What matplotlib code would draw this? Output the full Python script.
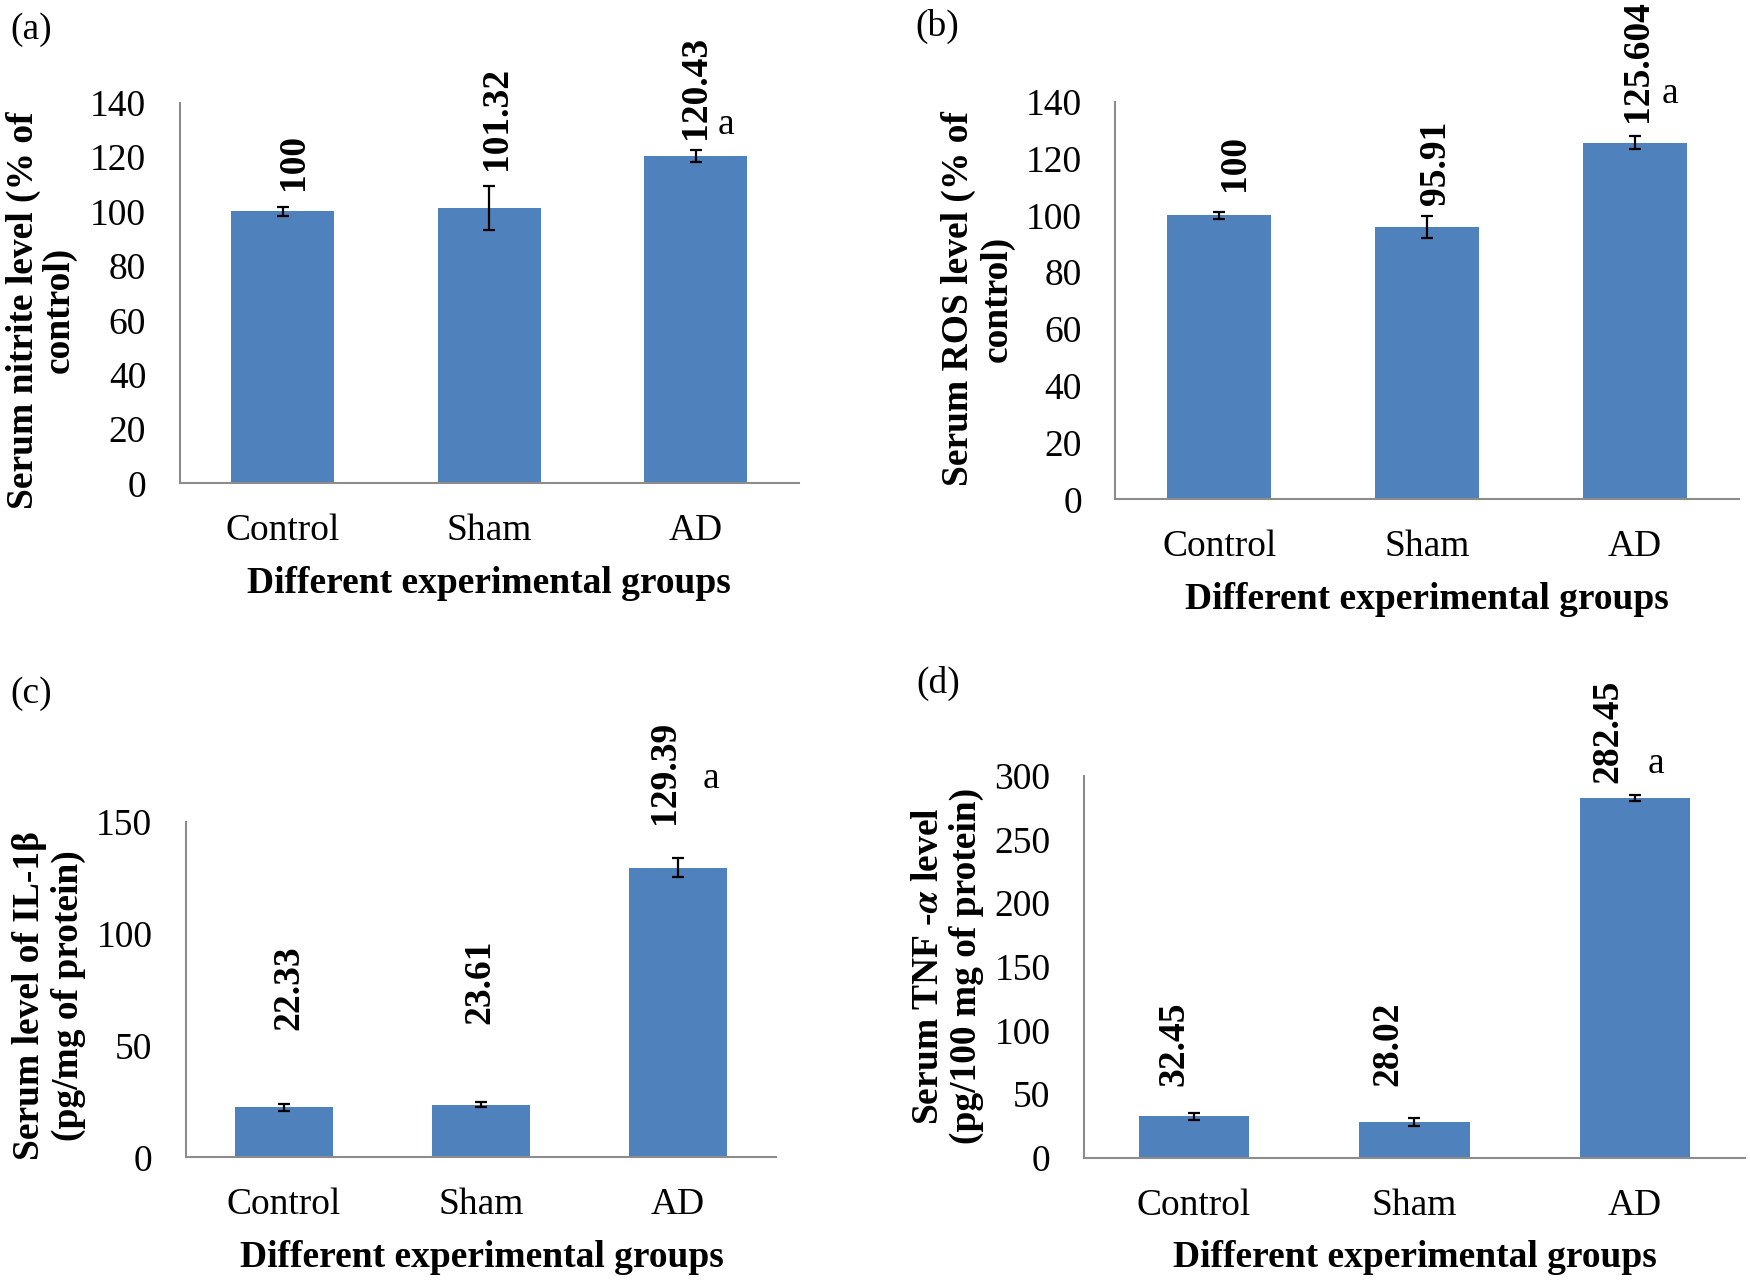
import numpy as np
import matplotlib
matplotlib.use("Agg")
from matplotlib import pyplot as plt

plt.rcParams['font.family'] = ['Liberation Serif', 'DejaVu Serif']
plt.rcParams['mathtext.fontset'] = 'stix'

# data
groups = ['Control', 'Sham', 'AD']

nitrite = [100, 101.32, 120.43]
nitrite_err = [1.6, 8.0, 2.1]

ros = [100, 95.91, 125.604]
ros_err = [1.3, 3.9, 2.3]

il1b = [22.33, 23.61, 129.39]
il1b_err = [1.7, 1.2, 4.2]

tnf = [32.45, 28.02, 282.45]
tnf_err = [2.6, 2.8, 2.5]

signif = ['', '', 'a']

bar_color = '#4F81BD'
spine_color = '#8C8C8C'
fs = 27

# one entry per panel: data + where things sit
panels = [
    dict(letter='(a)', letter_xy=(0.0177, 0.9768),
         rect=[0.1026, 0.6229, 0.3539, 0.2970],
         vals=nitrite, errs=nitrite_err, ymax=140, ystep=20,
         ylabel='Serum nitrite level (% of\ncontrol)', ylabel_xy=(-0.223, 0.456), ls=1.0,
         xlabel_xy=(0.499, -0.2635),
         dx=[0.052, 0.033, 0.0], dy=[6.4, 6.1, 4.0], sig_xy=(2.147, 131.8)),
    dict(letter='(b)', letter_xy=(0.5354, 0.9793),
         rect=[0.6373, 0.6105, 0.3564, 0.3100],
         vals=ros, errs=ros_err, ymax=140, ystep=20,
         ylabel='Serum ROS level (% of\ncontrol)', ylabel_xy=(-0.2205, 0.504), ls=1.14,
         xlabel_xy=(0.50, -0.2508),
         dx=[0.075, 0.04, 0.01], dy=[7.2, 4.0, 5.0], sig_xy=(2.168, 143)),
    dict(letter='(c)', letter_xy=(0.0181, 0.4590),
         rect=[0.1061, 0.0972, 0.3375, 0.2618],
         vals=il1b, errs=il1b_err, ymax=150, ystep=50,
         ylabel='Serum level of IL-1β\n(pg/mg of protein)', ylabel_xy=(-0.231, 0.481), ls=1.13,
         xlabel_xy=(0.501, -0.298),
         dx=[0.025, -0.005, -0.066], dy=[33, 34.8, 15.2], sig_xy=(2.17, 169.3)),
    dict(letter='(d)', letter_xy=(0.5363, 0.4667),
         rect=[0.6194, 0.0970, 0.3777, 0.2979],
         vals=tnf, errs=tnf_err, ymax=300, ystep=50,
         ylabel='Serum TNF -$\\mathbfit{\\alpha}$ level\n(pg/100 mg of protein)',
         ylabel_xy=(-0.206, 0.502), ls=1.11,
         xlabel_xy=(0.50, -0.261),
         dx=[-0.09, -0.12, -0.12], dy=[21.5, 25.8, 9.2], sig_xy=(2.095, 309.8)),
]

fig = plt.figure(figsize=(17.5, 12.82), dpi=100)

for p in panels:
    ax = fig.add_axes(p['rect'])
    x = np.arange(len(groups))
    ax.bar(x, p['vals'], width=0.5, color=bar_color, zorder=2)
    ax.errorbar(x, p['vals'], yerr=p['errs'], fmt='none', ecolor='black',
                elinewidth=1.6, capsize=4, capthick=1.6, zorder=3)

    ax.set_xlim(-0.5, 2.5)
    ax.set_ylim(0, p['ymax'])
    ax.set_yticks(np.arange(0, p['ymax'] + 1, p['ystep']))
    ax.set_xticks(x)
    ax.set_xticklabels(groups)
    ax.tick_params(axis='both', length=0, labelsize=fs)
    ax.tick_params(axis='y', pad=24)
    ax.tick_params(axis='x', pad=22)

    for s in ['top', 'right']:
        ax.spines[s].set_visible(False)
    for s in ['left', 'bottom']:
        ax.spines[s].set_color(spine_color)
        ax.spines[s].set_linewidth(1.5)

    # value labels, rotated, bold
    for i, v in enumerate(p['vals']):
        ax.text(i + p['dx'][i], v + p['errs'][i] + p['dy'][i], f'{v:g}',
                rotation=90, ha='center', va='bottom', fontsize=fs, fontweight='bold')
    for i, s in enumerate(signif):
        if s:
            ax.text(p['sig_xy'][0], p['sig_xy'][1], s, ha='center', va='center', fontsize=fs)

    ax.text(p['ylabel_xy'][0], p['ylabel_xy'][1], p['ylabel'], transform=ax.transAxes,
            rotation=90, ha='center', va='center', multialignment='center',
            fontsize=fs, fontweight='bold', linespacing=p['ls'])
    ax.text(p['xlabel_xy'][0], p['xlabel_xy'][1], 'Different experimental groups',
            transform=ax.transAxes, ha='center', va='center', fontsize=fs, fontweight='bold')

    fig.text(p['letter_xy'][0], p['letter_xy'][1], p['letter'], ha='center', va='center',
             fontsize=fs)

plt.savefig('out.png', dpi=100)
